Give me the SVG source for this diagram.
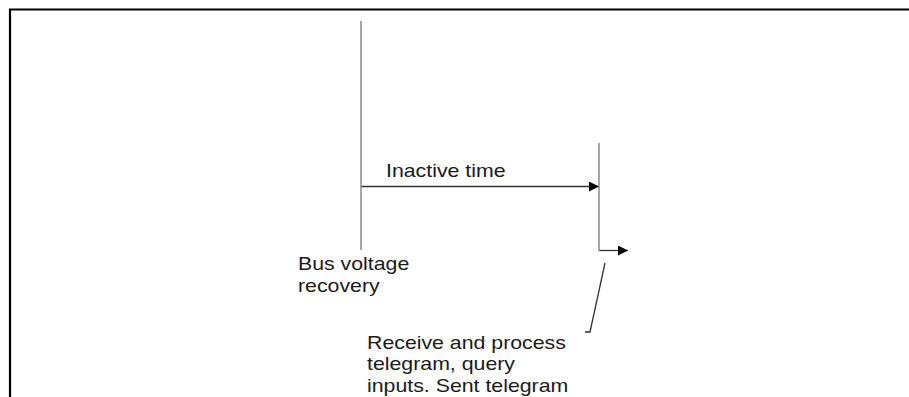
<svg xmlns="http://www.w3.org/2000/svg" width="909" height="397" viewBox="0 0 909 397">
<style>
.t{font-family:"Liberation Sans",Arial,sans-serif;font-size:18.5px;fill:#1a1a1a}
.v{stroke:#8a8a8a;stroke-width:1.5;fill:none}
.a{stroke:#333;stroke-width:1.3;fill:none}
</style>
<defs>
<marker id="ah" viewBox="0 0 10 10" refX="10" refY="5" markerWidth="10" markerHeight="10" markerUnits="userSpaceOnUse" orient="auto">
<path d="M0,0 L10,5 L0,10 z" fill="#000"/>
</marker>
</defs>
<rect width="909" height="397" fill="#fff"/>
<g id="frame">
<path d="M10,397 V9.5 H909" stroke="#000" stroke-width="2.2" fill="none"/>
</g>
<g id="connectors">
<path class="a" d="M361,186.5 H599" marker-end="url(#ah)"/>
<path class="a" d="M599,250.5 H628" marker-end="url(#ah)"/>
<path class="a" d="M605,263 L590,332 H585"/>
</g>
<g id="bus-voltage-line">
<line class="v" x1="361" y1="21" x2="361" y2="250"/>
</g>
<g id="telegram-line">
<line class="v" x1="599" y1="143" x2="599" y2="251"/>
</g>
<g id="label-inactive">
<text class="t" x="386" y="177" textLength="119.6" lengthAdjust="spacingAndGlyphs">Inactive time</text>
</g>
<g id="label-bus">
<text class="t" x="298" y="270" textLength="111.3" lengthAdjust="spacingAndGlyphs">Bus voltage</text>
<text class="t" x="298" y="292" textLength="81.7" lengthAdjust="spacingAndGlyphs">recovery</text>
</g>
<g id="label-receive">
<text class="t" x="367" y="348.5" textLength="198.9" lengthAdjust="spacingAndGlyphs">Receive and process</text>
<text class="t" x="367" y="370" textLength="148" lengthAdjust="spacingAndGlyphs">telegram, query</text>
<text class="t" x="367" y="391.5" textLength="201.3" lengthAdjust="spacingAndGlyphs">inputs. Sent telegram</text>
</g>
</svg>
